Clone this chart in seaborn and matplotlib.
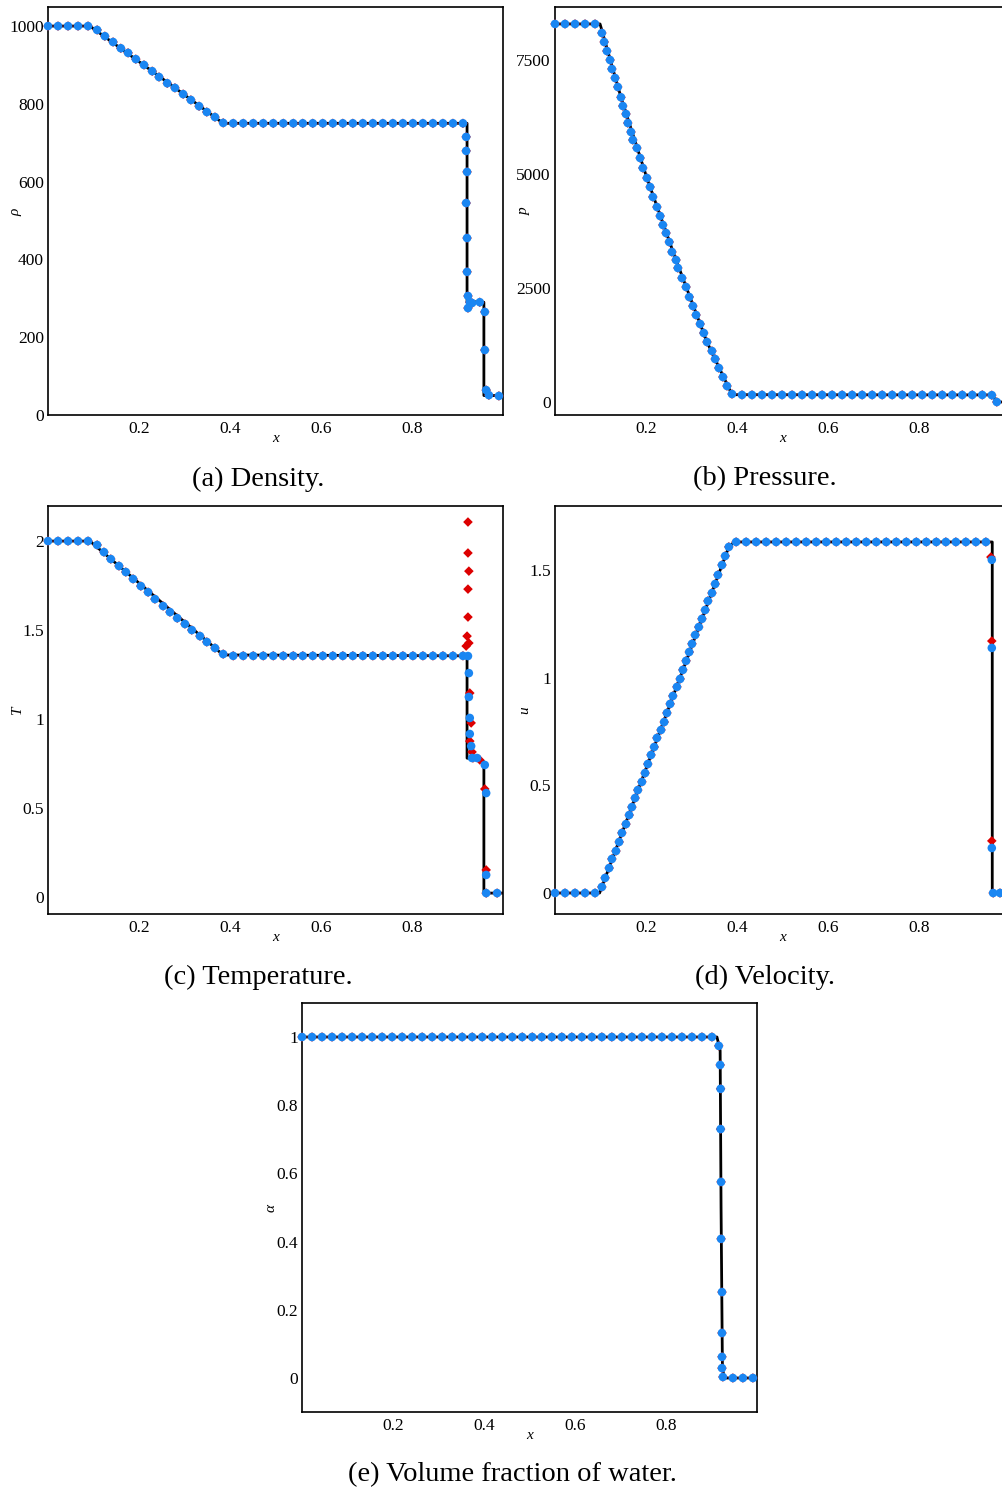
import numpy as np
import pandas as pd
import matplotlib
matplotlib.use("Agg")
import matplotlib.pyplot as plt
import seaborn as sns

# ---------------- data ----------------
# (a) density
rho_exact_x = [0.0, 0.092, 0.15, 0.25, 0.385, 0.921, 0.921, 0.958, 0.958, 1.0]
rho_exact_y = [1000, 1000, 951, 866, 750, 750, 292, 290, 50, 50]
rho_x = [0.000, 0.022, 0.044, 0.066, 0.088,
         0.108, 0.125, 0.143, 0.160, 0.176, 0.193, 0.211, 0.229, 0.244, 0.262,
         0.279, 0.297, 0.314, 0.332, 0.349, 0.367, 0.385,
         0.407, 0.429, 0.451, 0.473, 0.495, 0.517, 0.539, 0.560, 0.582, 0.604,
         0.626, 0.648, 0.670, 0.692, 0.714, 0.736, 0.758, 0.780, 0.802, 0.824,
         0.846, 0.868, 0.890, 0.912,
         0.919, 0.919, 0.921, 0.919, 0.921, 0.921, 0.923, 0.927, 0.923, 0.932,
         0.949, 0.960, 0.960, 0.963, 0.969, 0.991]
rho_y = [1000, 1000, 1000, 1000, 1000,
         990, 974, 959, 943, 931, 915, 900, 884, 869, 853,
         841, 825, 810, 794, 779, 766, 751,
         750, 750, 750, 750, 750, 750, 750, 750, 750, 750,
         750, 750, 750, 750, 750, 750, 750, 750, 750, 750,
         750, 750, 750, 750,
         715, 679, 625, 545, 455, 368, 306, 290, 275, 288,
         290, 265, 167, 64, 51, 49]

# (b) pressure
p_exact_x = [0.0, 0.099, 0.145, 0.202, 0.266, 0.334, 0.389, 0.962, 0.970, 1.0]
p_exact_y = [8290, 8290, 6682, 4912, 3114, 1316, 160, 155, 0, 0]
p_x = [0.000, 0.022, 0.044, 0.066, 0.088,
       0.103, 0.108, 0.114, 0.121, 0.125, 0.132, 0.138, 0.145, 0.149, 0.156,
       0.160, 0.167, 0.171, 0.180, 0.187, 0.193, 0.202, 0.209, 0.215, 0.224,
       0.231, 0.237, 0.244, 0.251, 0.257, 0.266, 0.270, 0.279, 0.288, 0.295,
       0.303, 0.310, 0.319, 0.327, 0.334, 0.345, 0.352, 0.360, 0.369, 0.378,
       0.389,
       0.411, 0.433, 0.455, 0.477, 0.499, 0.521, 0.543, 0.565, 0.587, 0.609,
       0.631, 0.653, 0.675, 0.697, 0.719, 0.741, 0.763, 0.785, 0.807, 0.829,
       0.851, 0.873, 0.895, 0.917, 0.939, 0.960,
       0.971, 0.993]
p_y = [8290, 8290, 8290, 8290, 8290,
       8092, 7895, 7697, 7500, 7303, 7105, 6908, 6682, 6491, 6316,
       6118, 5921, 5746, 5570, 5351, 5132, 4912, 4715, 4496, 4276,
       4079, 3882, 3706, 3509, 3290, 3114, 2939, 2719, 2522, 2303,
       2105, 1908, 1711, 1513, 1316, 1118, 943, 746, 548, 351,
       175,
       155, 155, 155, 155, 155, 155, 155, 155, 155, 155,
       155, 155, 155, 155, 155, 155, 155, 155, 155, 155,
       155, 155, 155, 155, 155, 150,
       0, 0]

# (c) temperature
T_exact_x = [0.0, 0.092, 0.385, 0.921, 0.921, 0.950, 0.958, 0.958, 1.0]
T_exact_y = [2.0, 2.0, 1.36, 1.355, 0.78, 0.775, 0.76, 0.022, 0.022]
T_common_x = [0.000, 0.022, 0.044, 0.066, 0.088,
              0.108, 0.123, 0.138, 0.156, 0.171, 0.187, 0.204, 0.220, 0.235,
              0.253, 0.268, 0.284, 0.301, 0.316, 0.334, 0.349, 0.367, 0.385,
              0.407, 0.429, 0.451, 0.473, 0.495, 0.517, 0.539, 0.560, 0.582,
              0.604, 0.626, 0.648, 0.670, 0.692, 0.714, 0.736, 0.758, 0.780,
              0.802, 0.824, 0.846, 0.868, 0.890, 0.912]
T_common_y = [2.0, 2.0, 2.0, 2.0, 2.0,
              1.978, 1.938, 1.899, 1.860, 1.826, 1.787, 1.747, 1.713, 1.674,
              1.635, 1.601, 1.567, 1.534, 1.500, 1.466, 1.433, 1.399, 1.365,
              1.355, 1.355, 1.355, 1.355, 1.355, 1.355, 1.355, 1.355, 1.355,
              1.355, 1.355, 1.355, 1.355, 1.355, 1.355, 1.355, 1.355, 1.355,
              1.355, 1.355, 1.355, 1.355, 1.355, 1.355]
T_blue_jump_x = [0.923, 0.925, 0.925, 0.927, 0.927, 0.930, 0.932, 0.943,
                 0.960, 0.963, 0.963, 0.963, 0.987]
T_blue_jump_y = [1.354, 1.258, 1.124, 1.006, 0.916, 0.848, 0.781, 0.781,
                 0.742, 0.584, 0.124, 0.022, 0.022]
T_red_jump_x = [0.923, 0.923, 0.925, 0.923, 0.923, 0.921, 0.925, 0.919, 0.927,
                0.930, 0.927, 0.932, 0.934, 0.949, 0.960, 0.963, 0.963, 0.987]
T_red_jump_y = [2.107, 1.933, 1.831, 1.730, 1.573, 1.466, 1.427, 1.410, 1.146,
                0.978, 0.876, 0.815, 0.781, 0.770, 0.607, 0.152, 0.022, 0.022]

# (d) velocity
u_exact_x = [0.0, 0.098, 0.382, 0.392, 0.402, 0.961, 0.961, 1.0]
u_exact_y = [0.0, 0.0, 1.607, 1.626, 1.63, 1.63, 0.0, 0.0]
u_common_x = [0.000, 0.022, 0.044, 0.066, 0.088,
              0.103, 0.110, 0.119, 0.125, 0.134, 0.141, 0.147, 0.156, 0.163,
              0.169, 0.176, 0.182, 0.191, 0.198, 0.204, 0.211, 0.218, 0.224,
              0.233, 0.240, 0.246, 0.253, 0.259, 0.268, 0.275, 0.281, 0.288,
              0.295, 0.301, 0.308, 0.316, 0.323, 0.330, 0.336, 0.345, 0.352,
              0.358, 0.367, 0.374, 0.382, 0.398,
              0.420, 0.442, 0.464, 0.486, 0.508, 0.530, 0.552, 0.574, 0.596,
              0.618, 0.640, 0.662, 0.684, 0.706, 0.728, 0.750, 0.772, 0.794,
              0.816, 0.838, 0.859, 0.881, 0.903, 0.925, 0.947]
u_common_y = [0.0, 0.0, 0.0, 0.0, 0.0,
              0.028, 0.070, 0.116, 0.158, 0.195, 0.237, 0.279, 0.320, 0.362,
              0.399, 0.441, 0.478, 0.516, 0.557, 0.599, 0.641, 0.678, 0.720,
              0.757, 0.794, 0.836, 0.878, 0.915, 0.957, 0.994, 1.036, 1.078,
              1.119, 1.157, 1.198, 1.235, 1.273, 1.314, 1.356, 1.393, 1.435,
              1.477, 1.523, 1.565, 1.607, 1.630,
              1.630, 1.630, 1.630, 1.630, 1.630, 1.630, 1.630, 1.630, 1.630,
              1.630, 1.630, 1.630, 1.630, 1.630, 1.630, 1.630, 1.630, 1.630,
              1.630, 1.630, 1.630, 1.630, 1.630, 1.630, 1.630]
u_blue_jump_x = [0.960, 0.960, 0.960, 0.963, 0.978, 0.995]
u_blue_jump_y = [1.547, 1.138, 0.209, 0.0, 0.0, 0.0]
u_red_jump_x = [0.958, 0.960, 0.960, 0.963, 0.978, 0.995]
u_red_jump_y = [1.560, 1.170, 0.242, 0.0, 0.0, 0.0]

# (e) volume fraction
a_exact_x = [0.0, 0.912, 0.919, 0.921, 0.924, 0.928, 1.0]
a_exact_y = [1.0, 1.0, 0.96, 0.5, 0.03, 0.0, 0.0]
a_x = [0.000, 0.022, 0.044, 0.066, 0.088, 0.110, 0.132, 0.154, 0.176, 0.198,
       0.220, 0.242, 0.264, 0.286, 0.308, 0.330, 0.352, 0.374, 0.396, 0.418,
       0.440, 0.462, 0.484, 0.506, 0.527, 0.549, 0.571, 0.593, 0.615, 0.637,
       0.659, 0.681, 0.703, 0.725, 0.747, 0.769, 0.791, 0.813, 0.835, 0.857,
       0.879, 0.901,
       0.916, 0.919, 0.920, 0.920, 0.921, 0.921, 0.923, 0.923, 0.923, 0.923,
       0.925, 0.947, 0.969, 0.991]
a_y = [1.0, 1.0, 1.0, 1.0, 1.0, 1.0, 1.0, 1.0, 1.0, 1.0,
       1.0, 1.0, 1.0, 1.0, 1.0, 1.0, 1.0, 1.0, 1.0, 1.0,
       1.0, 1.0, 1.0, 1.0, 1.0, 1.0, 1.0, 1.0, 1.0, 1.0,
       1.0, 1.0, 1.0, 1.0, 1.0, 1.0, 1.0, 1.0, 1.0, 1.0,
       1.0, 1.0,
       0.974, 0.918, 0.848, 0.730, 0.575, 0.408, 0.252, 0.132, 0.062, 0.029,
       0.003, 0.0, 0.0, 0.0]

captions = ["(a) Density.", "(b) Pressure.", "(c) Temperature.",
            "(d) Velocity.", "(e) Volume fraction of water."]
ylabels = [r"$\rho$", "p", "T", "u", r"$\alpha$"]

# ---------------- style ----------------
sns.set_theme(style="white")
plt.rcParams["font.family"] = ["Liberation Serif", "DejaVu Serif"]
plt.rcParams["mathtext.fontset"] = "custom"
plt.rcParams["mathtext.rm"] = "Liberation Serif"
plt.rcParams["mathtext.it"] = "Liberation Serif:italic"
plt.rcParams["text.color"] = "black"
plt.rcParams["axes.labelcolor"] = "black"
plt.rcParams["xtick.color"] = "black"
plt.rcParams["ytick.color"] = "black"

RED = "#dd0000"
BLUE = "#1a86f2"

W, H = 1002, 1491
fig = plt.figure(figsize=(W / 100, H / 100), dpi=100)


def rect(l, t, w, h):
    return [l / W, (H - t - h) / H, w / W, h / H]


def panel(pos, ex, ey, rx, ry, bx, by, ylim, yticks, yticklabels, ylabel):
    ax = fig.add_axes(rect(*pos))
    sns.lineplot(x=ex, y=ey, ax=ax, color="black", lw=2.0, sort=False,
                 estimator=None, zorder=2)
    sns.scatterplot(x=rx, y=ry, ax=ax, marker="D", s=24, color=RED,
                    edgecolor="none", linewidth=0, zorder=3, clip_on=False)
    sns.scatterplot(x=bx, y=by, ax=ax, marker="o", s=38, color=BLUE,
                    edgecolor="none", linewidth=0, zorder=4, clip_on=False)
    ax.set_xlim(0, 1)
    ax.set_ylim(*ylim)
    ax.set_xticks([0.2, 0.4, 0.6, 0.8])
    ax.set_xticklabels(["0.2", "0.4", "0.6", "0.8"])
    ax.set_yticks(yticks)
    ax.set_yticklabels(yticklabels)
    ax.tick_params(direction="in", length=6, width=1.2, colors="black",
                   labelcolor="black", labelsize=12.5, pad=3)
    ax.tick_params(axis="x", pad=4)
    for s in ax.spines.values():
        s.set_color("black")
        s.set_linewidth(1.2)
    ax.set_xlabel("x", fontsize=11, fontstyle="italic", color="black")
    ax.set_ylabel(ylabel, fontsize=11, fontstyle="italic", color="black")
    ax.xaxis.set_label_coords(0.5, -0.042)
    ax.yaxis.set_label_coords(-0.053, 0.5)
    return ax


panel((48, 7, 455, 408), rho_exact_x, rho_exact_y, rho_x, rho_y, rho_x, rho_y,
      (0, 1049), [0, 200, 400, 600, 800, 1000],
      ["0", "200", "400", "600", "800", "1000"], ylabels[0])
panel((555, 7, 455, 408), p_exact_x, p_exact_y, p_x, p_y, p_x, p_y,
      (-285, 8662), [0, 2500, 5000, 7500],
      ["0", "2500", "5000", "7500"], ylabels[1])
panel((48, 506, 455, 408), T_exact_x, T_exact_y,
      T_common_x + T_red_jump_x, T_common_y + T_red_jump_y,
      T_common_x + T_blue_jump_x, T_common_y + T_blue_jump_y,
      (-0.0955, 2.197), [0, 0.5, 1, 1.5, 2],
      ["0", "0.5", "1", "1.5", "2"], ylabels[2])
panel((555, 506, 455, 408), u_exact_x, u_exact_y,
      u_common_x + u_red_jump_x, u_common_y + u_red_jump_y,
      u_common_x + u_blue_jump_x, u_common_y + u_blue_jump_y,
      (-0.0975, 1.797), [0, 0.5, 1, 1.5],
      ["0", "0.5", "1", "1.5"], ylabels[3])
panel((302, 1003, 455, 409), a_exact_x, a_exact_y, a_x, a_y, a_x, a_y,
      (-0.0997, 1.0997), [0, 0.2, 0.4, 0.6, 0.8, 1],
      ["0", "0.2", "0.4", "0.6", "0.8", "1"], ylabels[4])

cap_pos = [(258, 479), (765, 479), (258, 977), (765, 977), (512, 1475)]
for txt, (cx, cy) in zip(captions, cap_pos):
    fig.text(cx / W, 1 - cy / H, txt, ha="center", va="center", fontsize=20.5,
             color="black")

fig.savefig("out.png", dpi=100)
